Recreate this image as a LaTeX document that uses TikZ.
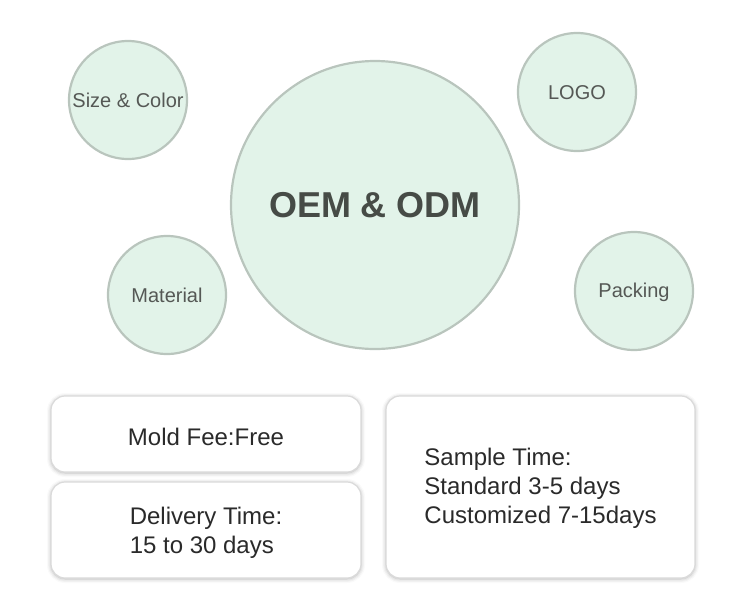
\documentclass[tikz,border=0pt]{standalone}
\usepackage{fontspec}
\setmainfont{Liberation Sans}
\usepackage{xcolor}
\usetikzlibrary{shadows.blur}
\definecolor{bubblefill}{HTML}{E2F3E9}
\definecolor{bubbleline}{HTML}{B9C5BD}
\definecolor{bubbletext}{HTML}{555855}
\definecolor{titletext}{HTML}{464B46}
\definecolor{cardline}{HTML}{DADADA}
\definecolor{cardtext}{HTML}{2A2A2A}

\begin{document}
\begin{tikzpicture}[x=1pt, y=-1pt,
                    bubble/.style={circle, fill=bubblefill, draw=bubbleline,
                      line width=2.2pt, inner sep=0pt, text=bubbletext,
                      font=\fontsize{20}{24}\selectfont},
                    card/.style={rectangle, rounded corners=14pt, fill=white,
                      draw=cardline, line width=1.2pt, align=left, text=cardtext,
                      font=\fontsize{24}{29}\selectfont,
                      blur shadow={shadow xshift=0pt, shadow yshift=-1pt,
                        shadow blur radius=4pt, shadow opacity=30}}]

  \useasboundingbox (0,0) rectangle (750,611);

  %% ---- 上半: 中間的大圓與四個小圓 ----
  \node[bubble, minimum size=288pt,
        font=\fontsize{36}{40}\selectfont\bfseries, text=titletext]
    (oem) at (375,205) {OEM \& ODM};
  \node[bubble, minimum size=118pt] (size)    at (128,100) {Size \& Color};
  \node[bubble, minimum size=118pt, text height=16pt] (logo) at (577,92) {LOGO};
  \node[bubble, minimum size=118pt] (material) at (167,295) {Material};
  \node[bubble, minimum size=118pt, text height=18pt] (packing) at (634,291) {Packing};

  %% ---- 下半: 三張白色卡片 ----
  \node[card, minimum width=310pt, minimum height=76pt, text height=23pt]
    (mold) at (206,434) {Mold Fee:Free};
  \node[card, minimum width=310pt, minimum height=96pt]
    (delivery) at (206,530) {\rule{0pt}{23pt}Delivery Time:\\15 to 30 days};
  \node[card, minimum width=309pt, minimum height=182pt]
    (sample) at (540.5,487) {\rule{0pt}{19.5pt}Sample Time:\\Standard 3-5 days\\Customized 7-15days};

\end{tikzpicture}
\end{document}
